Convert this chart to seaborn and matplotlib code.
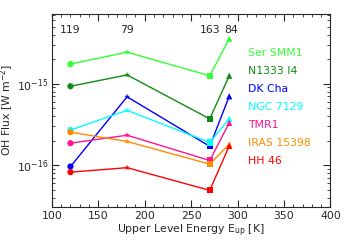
import matplotlib
matplotlib.use("Agg")
import matplotlib.pyplot as plt
import matplotlib.ticker as mticker
import seaborn as sns
import pandas as pd

# upper level energies of the four OH lines and their wavelengths (micron)
eup = [120, 181, 270, 291]
wavelengths = ["119", "79", "163", "84"]
label_x = [120, 181, 270, 293]
line_markers = ["o", "*", "s", "^"]

sources = ["Ser SMM1", "N1333 I4", "DK Cha", "NGC 7129", "TMR1", "IRAS 15398", "HH 46"]
colors = ["#33ff33", "#138a13", "#0000ff", "#00ffff", "#ff1493", "#ff8c00", "#ff0000"]

ser_smm1 = [1.74e-15, 2.44e-15, 1.25e-15, 3.56e-15]
n1333_i4 = [9.3e-16, 1.28e-15, 3.7e-16, 1.25e-15]
dk_cha = [9.6e-17, 6.9e-16, 1.7e-16, 7.0e-16]
ngc_7129 = [2.7e-16, 4.7e-16, 1.9e-16, 3.7e-16]
tmr1 = [1.86e-16, 2.33e-16, 1.14e-16, 3.3e-16]
iras_15398 = [2.54e-16, 1.95e-16, 1.03e-16, 1.8e-16]
hh_46 = [8.2e-17, 9.3e-17, 4.9e-17, 1.72e-16]

fluxes = [ser_smm1, n1333_i4, dk_cha, ngc_7129, tmr1, iras_15398, hh_46]

rows = []
for src, vals in zip(sources, fluxes):
    for e, wl, v in zip(eup, wavelengths, vals):
        rows.append({"source": src, "Eup": e, "line": wl, "flux": v})
df = pd.DataFrame(rows)

sns.set_style("ticks")
plt.rcParams["font.family"] = ["DejaVu Sans"]

fig, ax = plt.subplots(figsize=(3.46, 2.43), dpi=100)
palette = dict(zip(sources, colors))
sns.lineplot(data=df, x="Eup", y="flux", hue="source", palette=palette,
             linewidth=1.0, legend=False, ax=ax, sort=False)
sns.scatterplot(data=df, x="Eup", y="flux", hue="source", style="line",
                palette=palette, markers=dict(zip(wavelengths, line_markers)),
                s=20, edgecolor="none", legend=False, ax=ax, zorder=3)

ax.set_yscale("log")
ax.set_xlim(100, 400)
ax.set_ylim(3.1e-17, 7.2e-15)
ax.xaxis.set_major_locator(mticker.MultipleLocator(50))
ax.xaxis.set_minor_locator(mticker.MultipleLocator(10))
ax.yaxis.set_minor_formatter(mticker.NullFormatter())
ax.tick_params(which="both", direction="in", top=True, right=True, labelsize=7.8)
ax.tick_params(axis="y", pad=2.5)
ax.tick_params(which="major", length=5)
ax.tick_params(which="minor", length=2.5)
ax.set_xlabel(r"Upper Level Energy E$_{\rm up}$ [K]", fontsize=7.8, labelpad=1)
ax.set_ylabel(r"OH Flux [W m$^{-2}$]", fontsize=7.8)
ax.yaxis.set_label_coords(-0.128, 0.5)

trans = ax.get_xaxis_transform()
for x, wl in zip(label_x, wavelengths):
    ax.text(x, 0.915, wl, transform=trans, ha="center", va="center", fontsize=7.8)

for i, (src, c) in enumerate(zip(sources, colors)):
    ax.text(0.703, 0.795 - i * 0.093, src, transform=ax.transAxes, color=c,
            fontsize=7.8, va="center", ha="left")

plt.subplots_adjust(left=0.15, right=0.955, top=0.943, bottom=0.15)
fig.savefig("out.png", dpi=100)
